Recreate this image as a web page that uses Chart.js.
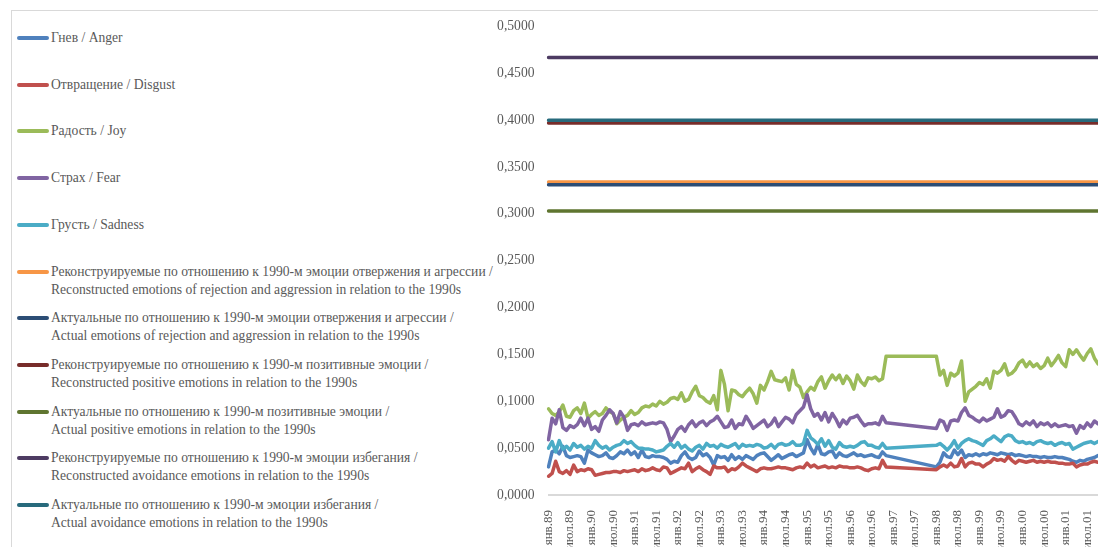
<!DOCTYPE html>
<html lang="ru">
<head>
<meta charset="utf-8">
<title>Эмоции по отношению к 1990-м</title>
<script src="https://cdn.jsdelivr.net/npm/chart.js@4.4.1/dist/chart.umd.min.js"></script>
<style>
    html, body {
        margin: 0;
        padding: 0;
        background: #ffffff;
    }

    body {
        position: relative;
        width: 1098px;
        height: 547px;
        overflow: hidden;
        font-family: "Liberation Serif", "Times New Roman", serif;
        color: #595959;
    }

    .frame {
        position: absolute;
        left: 11px;
        top: 10px;
        right: -4px;
        bottom: -4px;
        border-left: 1px solid #d9d9d9;
        border-top: 1px solid #d9d9d9;
    }

    .chart-box {
        position: absolute;
        left: 480px;
        top: 0;
        width: 618px;
        height: 547px;
    }

    .legend-item {
        position: absolute;
        left: 17px;
        font-size: 13.6px;
        line-height: 18px;
        white-space: nowrap;
    }

    .legend-swatch {
        position: absolute;
        left: 0;
        top: 7px;
        width: 32px;
        height: 4px;
        border-radius: 2px;
    }

    .legend-text {
        margin-left: 34px;
    }
</style>
</head>
<body>
<div class="frame"></div>
<div id="legend"></div>
<div class="chart-box"><canvas id="chart"></canvas></div>

<script>
const monthNames = ['янв', 'фев', 'мар', 'апр', 'май', 'июн', 'июл', 'авг', 'сен', 'окт', 'ноя', 'дек'];
const yearLabels = ['89', '90', '91', '92', '93', '94', '95', '96', '97', '98', '99', '00', '01'];

// январь 1989 - октябрь 2001, в 1997 г. замеров нет
const months = yearLabels
    .flatMap((year) => monthNames.map((month) => `${month}.${year}`))
    .slice(0, 154);

const anger = [
    0.030, 0.046, 0.048, 0.044, 0.052, 0.042, 0.040, 0.041, 0.042, 0.041, 0.034, 0.048,
    0.045, 0.043, 0.041, 0.042, 0.045, 0.040, 0.039, 0.042, 0.046, 0.044, 0.048, 0.043,
    0.046, 0.040, 0.048, 0.041, 0.040, 0.042, 0.041, 0.041, 0.040, 0.038, 0.034, 0.036,
    0.035, 0.042, 0.046, 0.040, 0.038, 0.040, 0.047, 0.042, 0.044, 0.040, 0.032, 0.042,
    0.040, 0.041, 0.037, 0.043, 0.038, 0.041, 0.038, 0.042, 0.040, 0.038, 0.042, 0.044,
    0.045, 0.041, 0.037, 0.040, 0.043, 0.039, 0.041, 0.043, 0.044, 0.041, 0.043, 0.045,
    0.059, 0.050, 0.044, 0.054, 0.044, 0.043, 0.046, 0.047, 0.040, 0.045, 0.042, 0.041,
    0.043, 0.045, 0.042, 0.043, 0.041, 0.042, 0.043, 0.041, 0.040, 0.046, 0.042, null,
    null, null, null, null, null, null, null, null, null, null, null, null,
    0.030, 0.035, 0.045, 0.041, 0.040, 0.048, 0.043, 0.048, 0.040, 0.043, 0.042, 0.044,
    0.042, 0.044, 0.043, 0.045, 0.044, 0.043, 0.045, 0.044, 0.043, 0.044, 0.042, 0.043,
    0.042, 0.041, 0.042, 0.041, 0.041, 0.040, 0.041, 0.040, 0.040, 0.041, 0.040, 0.040,
    0.039, 0.038, 0.036, 0.035, 0.037, 0.036, 0.038, 0.039, 0.040, 0.042,
];

const disgust = [
    0.020, 0.023, 0.036, 0.025, 0.023, 0.026, 0.022, 0.032, 0.025, 0.027, 0.026, 0.028,
    0.027, 0.021, 0.022, 0.023, 0.024, 0.024, 0.025, 0.025, 0.024, 0.026, 0.025, 0.026,
    0.027, 0.025, 0.028, 0.026, 0.027, 0.029, 0.027, 0.026, 0.030, 0.029, 0.023, 0.025,
    0.027, 0.029, 0.028, 0.034, 0.025, 0.028, 0.030, 0.027, 0.025, 0.022, 0.031, 0.029,
    0.029, 0.030, 0.025, 0.028, 0.027, 0.030, 0.034, 0.031, 0.029, 0.027, 0.025, 0.028,
    0.029, 0.028, 0.028, 0.029, 0.030, 0.029, 0.029, 0.028, 0.027, 0.029, 0.030, 0.029,
    0.034, 0.030, 0.032, 0.029, 0.030, 0.031, 0.029, 0.030, 0.029, 0.031, 0.030, 0.030,
    0.029, 0.029, 0.030, 0.029, 0.027, 0.026, 0.028, 0.029, 0.028, 0.037, 0.030, null,
    null, null, null, null, null, null, null, null, null, null, null, null,
    0.027, 0.030, 0.032, 0.030, 0.034, 0.030, 0.031, 0.039, 0.030, 0.034, 0.035, 0.033,
    0.033, 0.030, 0.033, 0.035, 0.039, 0.037, 0.038, 0.036, 0.041, 0.037, 0.034, 0.037,
    0.036, 0.035, 0.036, 0.037, 0.035, 0.036, 0.035, 0.036, 0.035, 0.035, 0.034, 0.034,
    0.033, 0.033, 0.034, 0.030, 0.032, 0.033, 0.033, 0.035, 0.036, 0.035,
];

const joy = [
    0.092, 0.087, 0.085, 0.089, 0.096, 0.084, 0.083, 0.090, 0.093, 0.087, 0.098, 0.082,
    0.086, 0.089, 0.085, 0.087, 0.093, 0.089, 0.087, 0.076, 0.080, 0.083, 0.085, 0.090,
    0.086, 0.088, 0.093, 0.095, 0.094, 0.097, 0.095, 0.100, 0.097, 0.099, 0.103, 0.104,
    0.102, 0.109, 0.100, 0.102, 0.110, 0.116, 0.106, 0.104, 0.100, 0.098, 0.106, 0.091,
    0.133, 0.118, 0.090, 0.112, 0.111, 0.107, 0.105, 0.110, 0.114, 0.108, 0.098, 0.117,
    0.112, 0.121, 0.132, 0.123, 0.122, 0.121, 0.125, 0.112, 0.133, 0.118, 0.115, 0.104,
    0.110, 0.115, 0.112, 0.121, 0.126, 0.114, 0.122, 0.128, 0.123, 0.128, 0.119, 0.127,
    0.122, 0.113, 0.128, 0.121, 0.117, 0.125, 0.124, 0.126, 0.122, 0.124, 0.148, null,
    null, null, null, null, null, null, null, null, null, null, null, null,
    0.148, 0.128, 0.133, 0.117, 0.130, 0.127, 0.130, 0.143, 0.100, 0.110, 0.113, 0.116,
    0.120, 0.118, 0.124, 0.114, 0.132, 0.130, 0.133, 0.140, 0.128, 0.130, 0.134, 0.141,
    0.144, 0.137, 0.142, 0.137, 0.140, 0.135, 0.138, 0.146, 0.138, 0.143, 0.149, 0.141,
    0.137, 0.155, 0.150, 0.155, 0.149, 0.144, 0.151, 0.156, 0.146, 0.140,
];

const fear = [
    0.059, 0.082, 0.076, 0.091, 0.072, 0.069, 0.074, 0.072, 0.075, 0.082, 0.074, 0.082,
    0.070, 0.073, 0.068, 0.080, 0.085, 0.091, 0.087, 0.077, 0.089, 0.083, 0.069, 0.075,
    0.076, 0.074, 0.078, 0.075, 0.076, 0.077, 0.076, 0.078, 0.077, 0.070, 0.057, 0.063,
    0.070, 0.073, 0.068, 0.075, 0.079, 0.073, 0.077, 0.079, 0.074, 0.078, 0.080, 0.084,
    0.078, 0.072, 0.073, 0.080, 0.071, 0.076, 0.075, 0.084, 0.078, 0.071, 0.074, 0.077,
    0.080, 0.073, 0.076, 0.082, 0.073, 0.078, 0.083, 0.081, 0.077, 0.086, 0.090, 0.094,
    0.107, 0.092, 0.084, 0.087, 0.080, 0.088, 0.078, 0.087, 0.081, 0.073, 0.080, 0.076,
    0.082, 0.083, 0.085, 0.079, 0.074, 0.076, 0.076, 0.077, 0.075, 0.084, 0.077, null,
    null, null, null, null, null, null, null, null, null, null, null, null,
    0.071, 0.080, 0.078, 0.069, 0.079, 0.080, 0.079, 0.088, 0.093, 0.085, 0.083, 0.080,
    0.078, 0.082, 0.079, 0.081, 0.083, 0.092, 0.083, 0.085, 0.090, 0.089, 0.083, 0.076,
    0.074, 0.078, 0.075, 0.079, 0.073, 0.077, 0.075, 0.077, 0.073, 0.076, 0.073, 0.074,
    0.075, 0.073, 0.074, 0.066, 0.074, 0.071, 0.077, 0.073, 0.079, 0.076,
];

const sadness = [
    0.050, 0.057, 0.046, 0.058, 0.049, 0.052, 0.048, 0.055, 0.051, 0.053, 0.049, 0.052,
    0.050, 0.058, 0.053, 0.050, 0.052, 0.048, 0.051, 0.053, 0.054, 0.058, 0.055, 0.057,
    0.053, 0.050, 0.050, 0.049, 0.049, 0.048, 0.046, 0.047, 0.048, 0.052, 0.055, 0.051,
    0.056, 0.050, 0.053, 0.049, 0.047, 0.051, 0.053, 0.049, 0.055, 0.052, 0.053, 0.050,
    0.054, 0.052, 0.051, 0.053, 0.055, 0.050, 0.054, 0.052, 0.053, 0.052, 0.054, 0.053,
    0.050, 0.051, 0.054, 0.050, 0.054, 0.055, 0.053, 0.054, 0.057, 0.053, 0.053, 0.055,
    0.069, 0.061, 0.058, 0.054, 0.060, 0.052, 0.058, 0.051, 0.049, 0.056, 0.052, 0.051,
    0.052, 0.051, 0.053, 0.056, 0.057, 0.053, 0.053, 0.051, 0.050, 0.055, 0.050, null,
    null, null, null, null, null, null, null, null, null, null, null, null,
    0.053, 0.055, 0.052, 0.048, 0.052, 0.058, 0.050, 0.055, 0.058, 0.060, 0.058, 0.057,
    0.055, 0.053, 0.058, 0.060, 0.063, 0.060, 0.057, 0.062, 0.064, 0.063, 0.058, 0.056,
    0.057, 0.055, 0.056, 0.054, 0.057, 0.058, 0.056, 0.055, 0.056, 0.053, 0.055, 0.056,
    0.054, 0.055, 0.049, 0.051, 0.053, 0.055, 0.056, 0.057, 0.055, 0.057,
];

// постоянные уровни (одно значение на весь период)
const rejectionReconstructed = 0.334;
const rejectionActual = 0.331;
const positiveReconstructed = 0.397;
const positiveActual = 0.303;
const avoidanceReconstructed = 0.467;
const avoidanceActual = 0.400;

const seriesNames = [
    ['Гнев / Anger'],
    ['Отвращение / Disgust'],
    ['Радость / Joy'],
    ['Страх / Fear'],
    ['Грусть / Sadness'],
    ['Реконструируемые по отношению к 1990-м эмоции отвержения и агрессии /',
        'Reconstructed emotions of rejection and aggression in relation to the 1990s'],
    ['Актуальные по отношению к 1990-м эмоции отвержения и агрессии /',
        'Actual emotions of rejection and aggression in relation to the 1990s'],
    ['Реконструируемые по отношению к 1990-м позитивные эмоции /',
        'Reconstructed positive emotions in relation to the 1990s'],
    ['Актуальные по отношению к 1990-м позитивные эмоции /',
        'Actual positive emotions in relation to the 1990s'],
    ['Реконструируемые по отношению к 1990-м эмоции избегания /',
        'Reconstructed avoidance emotions in relation to the 1990s'],
    ['Актуальные по отношению к 1990-м эмоции избегания /',
        'Actual avoidance emotions in relation to the 1990s'],
];

const seriesColors = [
    '#4f81bd',
    '#c0504d',
    '#9bbb59',
    '#8064a2',
    '#4bacc6',
    '#f79646',
    '#2c4d75',
    '#772c2a',
    '#5f7530',
    '#4d3b62',
    '#276a7c',
];

const monthlySeries = [anger, disgust, joy, fear, sadness];
const levels = [
    rejectionReconstructed,
    rejectionActual,
    positiveReconstructed,
    positiveActual,
    avoidanceReconstructed,
    avoidanceActual,
];

const levelLine = (value) => [
    { x: months[0], y: value },
    { x: months[months.length - 1], y: value },
];

const allData = [...monthlySeries, ...levels.map(levelLine)];

const datasets = allData.map((data, index) => ({
    label: seriesNames[index].join(' '),
    data,
    borderColor: seriesColors[index],
    backgroundColor: seriesColors[index],
    spanGaps: true,
    fill: false,
    order: allData.length - index,
}));

const fontFamily = '"Liberation Serif", "Times New Roman", serif';

const chart = new Chart(document.getElementById('chart'), {
    type: 'line',
    data: {
        labels: months,
        datasets,
    },
    options: {
        responsive: true,
        maintainAspectRatio: false,
        animation: false,
        layout: {
            padding: { top: 26.5, right: 0, bottom: 0, left: 0 },
        },
        plugins: {
            legend: { display: false },
            tooltip: { enabled: false },
        },
        elements: {
            point: { radius: 0, hoverRadius: 0 },
            line: {
                borderWidth: 3.5,
                tension: 0,
                borderJoinStyle: 'round',
                borderCapStyle: 'round',
            },
        },
        scales: {
            x: {
                grid: { display: false },
                border: { display: true, color: '#d9d9d9', width: 2 },
                ticks: {
                    autoSkip: false,
                    minRotation: 90,
                    maxRotation: 90,
                    padding: 7,
                    color: '#595959',
                    font: { family: fontFamily, size: 13 },
                    callback(value, index) {
                        return index % 6 === 0 ? this.getLabelForValue(value) : null;
                    },
                },
                afterFit(scale) {
                    scale.height = 52;
                    scale.paddingLeft = 0;
                    scale.paddingRight = 0;
                },
            },
            y: {
                min: 0,
                max: 0.5,
                grid: { display: false },
                border: { display: false },
                ticks: {
                    stepSize: 0.05,
                    padding: 6,
                    color: '#595959',
                    font: { family: fontFamily, size: 13.6 },
                    callback: (value) => Number(value).toFixed(4).replace('.', ','),
                },
                afterFit(scale) {
                    scale.width = 68.5;
                },
            },
        },
    },
});

// легенда слева, как в исходной диаграмме
const legend = document.getElementById('legend');
chart.data.datasets.forEach((dataset, index) => {
    const item = document.createElement('div');
    item.className = 'legend-item';
    item.style.top = `${29 + index * 46.7}px`;

    const swatch = document.createElement('span');
    swatch.className = 'legend-swatch';
    swatch.style.background = dataset.borderColor;
    item.appendChild(swatch);

    seriesNames[index].forEach((line) => {
        const text = document.createElement('div');
        text.className = 'legend-text';
        text.textContent = line;
        item.appendChild(text);
    });

    legend.appendChild(item);
});
</script>
</body>
</html>
